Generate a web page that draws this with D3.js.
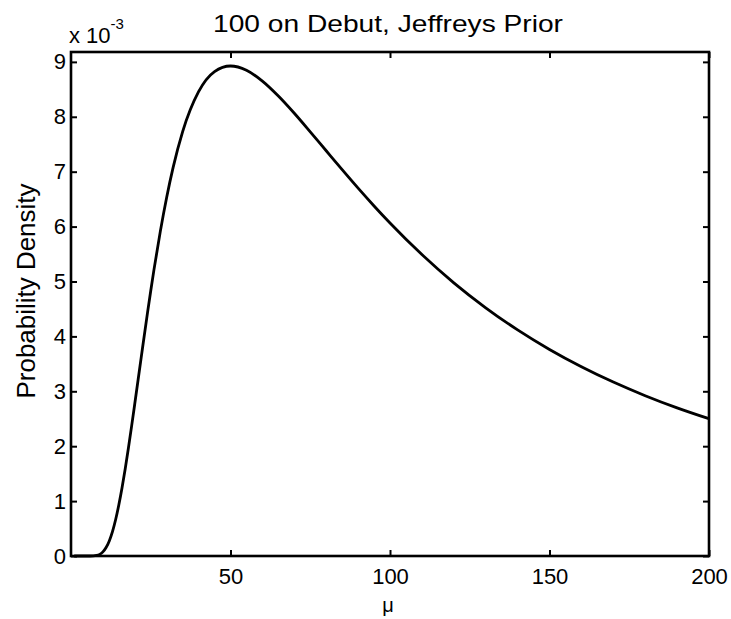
<!DOCTYPE html>
<html>
  <head>
    <meta charset="UTF-8" />
    <script src="https://d3js.org/d3.v7.min.js"></script>
    <title>100 on Debut, Jeffreys Prior</title>
    <style>
      body { margin: 0; background: #fff; }
      text { font-family: Arial, "Liberation Sans", sans-serif; fill: #000; }
    </style>
  </head>
  <body>
    <svg id="chart" width="731" height="619"></svg>
    <script>
      // mu values and density (in units of 1e-3)
      var mu = [1, 4, 6, 7, 8, 9, 10, 11, 12, 13, 14, 15, 16, 17, 18, 19, 20, 22, 24, 25, 26, 28, 30, 32, 35,
        40, 45, 50, 55, 60, 65, 70, 75, 80, 85, 90, 95, 100, 110, 120, 130, 140, 150, 160, 170, 180, 190, 200];
      var density = [0, 0, 0.0003, 0.002, 0.0096, 0.030, 0.075, 0.154, 0.275, 0.445, 0.665, 0.933, 1.243, 1.591, 1.967, 2.365, 2.777, 3.614, 4.438, 4.832, 5.212, 5.913, 6.535, 7.074, 7.730,
        8.457, 8.823, 8.925, 8.848, 8.650, 8.378, 8.064, 7.726, 7.381, 7.037, 6.700, 6.376, 6.065, 5.490, 4.976, 4.521, 4.118, 3.762, 3.447, 3.168, 2.920, 2.698, 2.500];
      var xTicks = [50, 100, 150, 200];
      var yTicks = [0, 1, 2, 3, 4, 5, 6, 7, 8, 9];

      var svg = d3.select("#chart");
      var mLeft = 71, mRight = 709, mTop = 52, mBottom = 556;

      var x = d3.scaleLinear().domain([0, 200]).range([mLeft, mRight]);
      var y = d3.scaleLinear().domain([0, 9.18]).range([mBottom, mTop]);

      var tickLen = 6;

      // curve
      var line = d3.line()
        .x(function(d, i) { return x(mu[i]); })
        .y(function(d) { return y(d); })
        .curve(d3.curveMonotoneX);

      svg.append("path")
        .datum(density)
        .attr("d", line)
        .attr("fill", "none")
        .attr("stroke", "#000")
        .attr("stroke-width", 2.8)
        .attr("stroke-linejoin", "round");

      // axes: bottom/left with labels, top/right mirrored ticks
      var gx = svg.append("g").attr("transform", "translate(0," + mBottom + ")")
        .call(d3.axisBottom(x).tickValues(xTicks).tickSizeInner(-tickLen).tickSizeOuter(0).tickPadding(12));
      var gxt = svg.append("g").attr("transform", "translate(0," + mTop + ")")
        .call(d3.axisTop(x).tickValues(xTicks).tickSizeInner(-tickLen).tickSizeOuter(0).tickFormat(""));
      var gy = svg.append("g").attr("transform", "translate(" + mLeft + ",0)")
        .call(d3.axisLeft(y).tickValues(yTicks).tickSizeInner(-tickLen).tickSizeOuter(0).tickPadding(5));
      var gyr = svg.append("g").attr("transform", "translate(" + mRight + ",0)")
        .call(d3.axisRight(y).tickValues(yTicks).tickSizeInner(-tickLen).tickSizeOuter(0).tickFormat(""));

      [gx, gxt, gy, gyr].forEach(function(g) {
        g.select(".domain").remove();
        g.selectAll(".tick line").attr("stroke", "#000").attr("stroke-width", 2);
        g.selectAll(".tick text").style("font-size", "22px").attr("fill", "#333");
      });
      gx.selectAll(".tick text").attr("dy", "0.71em");

      // box
      svg.append("rect")
        .attr("x", mLeft).attr("y", mTop)
        .attr("width", mRight - mLeft).attr("height", mBottom - mTop)
        .attr("fill", "none").attr("stroke", "#000").attr("stroke-width", 2.6);

      // title
      svg.append("text")
        .attr("x", (mLeft + mRight) / 2 - 2).attr("y", 32)
        .attr("text-anchor", "middle")
        .attr("textLength", 350).attr("lengthAdjust", "spacingAndGlyphs")
        .style("font-size", "24px")
        .text("100 on Debut, Jeffreys Prior");

      // exponent
      var ex = svg.append("text").attr("x", 69).attr("y", 43).style("font-size", "22px").attr("fill", "#333");
      ex.append("tspan").text("x 10");
      ex.append("tspan").attr("dy", -14).style("font-size", "15px").text("-3");

      // axis labels
      svg.append("text")
        .attr("transform", "translate(35,291) rotate(-90)")
        .attr("text-anchor", "middle")
        .attr("textLength", 215).attr("lengthAdjust", "spacingAndGlyphs")
        .style("font-size", "25px")
        .text("Probability Density");

      svg.append("text")
        .attr("x", (mLeft + mRight) / 2 - 2).attr("y", 612)
        .attr("text-anchor", "middle")
        .style("font-size", "20px")
        .attr("fill", "#333")
        .text("μ");
    </script>
  </body>
</html>
